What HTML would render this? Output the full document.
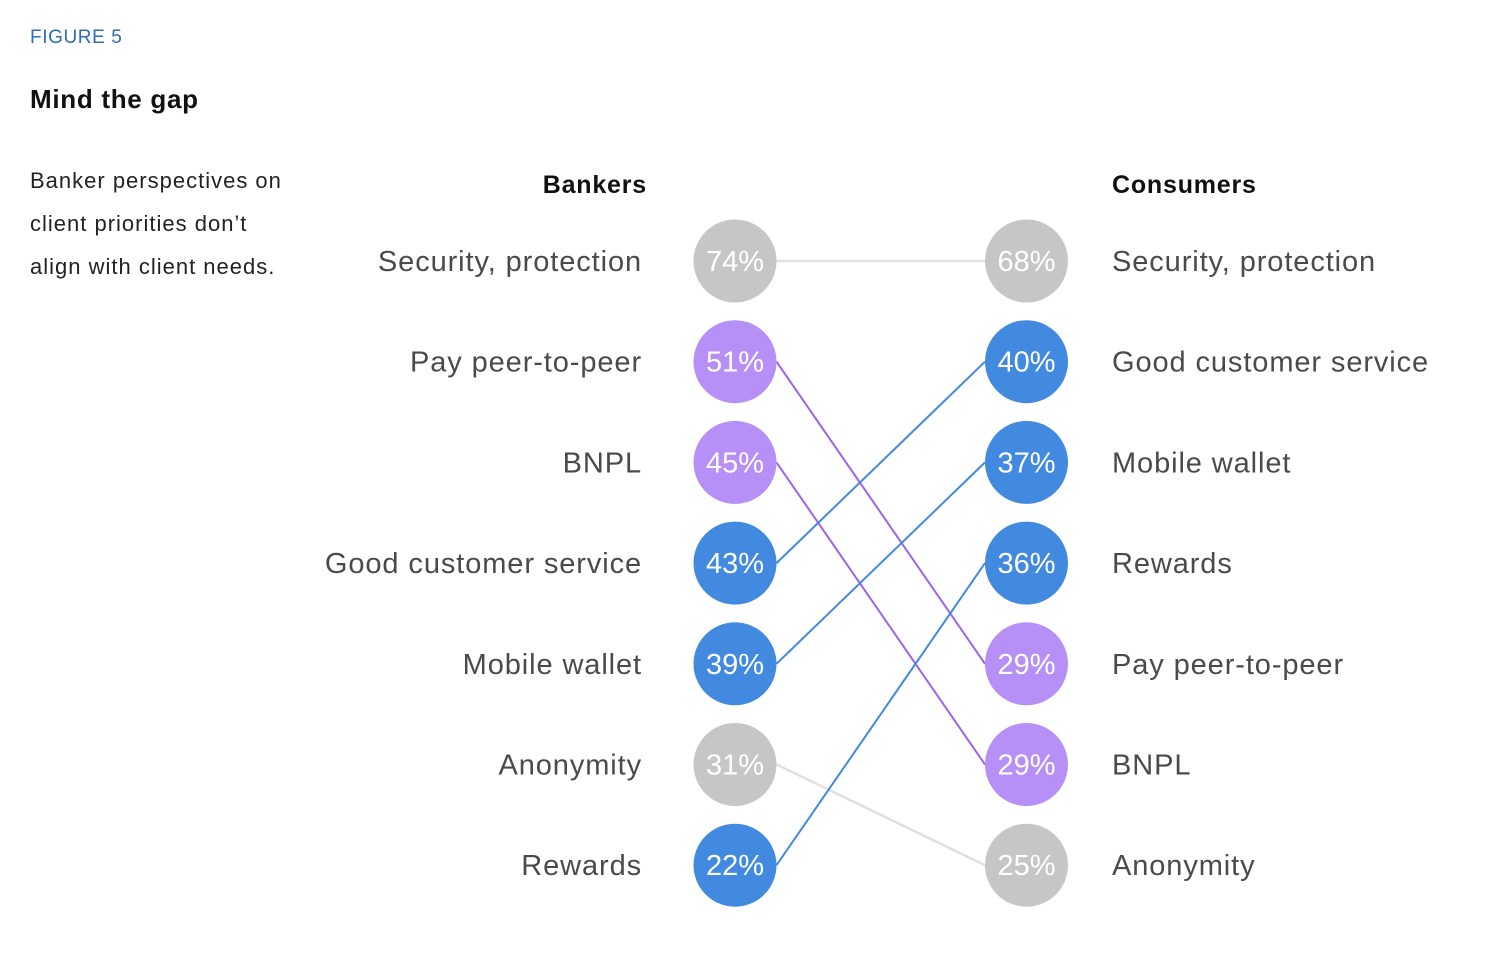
<!DOCTYPE html>
<html><head><meta charset="utf-8"><style>
body{margin:0;background:#fff;font-family:"Liberation Sans",sans-serif;}
svg text{font-family:"Liberation Sans",sans-serif;}
</style></head><body>
<svg id="chart" width="1486" height="960" xmlns="http://www.w3.org/2000/svg">
<text x="30" y="43" font-size="19" letter-spacing="0.6" fill="#2f6db5">FIGURE 5</text>
<text x="30" y="108" font-size="26" letter-spacing="0.7" font-weight="bold" fill="#111">Mind the gap</text>
<g font-size="22" letter-spacing="1" fill="#222">
<text x="30" y="188">Banker perspectives on</text>
<text x="30" y="231">client priorities don’t</text>
<text x="30" y="274">align with client needs.</text>
</g>
<text x="647" y="193" text-anchor="end" font-size="25" letter-spacing="0.8" font-weight="bold" fill="#111">Bankers</text>
<text x="1112" y="193" font-size="25" letter-spacing="0.8" font-weight="bold" fill="#111">Consumers</text>
<g id="lines"></g><g id="marks"></g>
</svg>
<script>
const bankerLabels=["Security, protection","Pay peer-to-peer","BNPL","Good customer service","Mobile wallet","Anonymity","Rewards"];
const bankerValues=[74,51,45,43,39,31,22];
const consumerLabels=["Security, protection","Good customer service","Mobile wallet","Rewards","Pay peer-to-peer","BNPL","Anonymity"];
const consumerValues=[68,40,37,36,29,29,25];
const groups={"Security, protection":"gray","Anonymity":"gray","Pay peer-to-peer":"purple","BNPL":"purple","Good customer service":"blue","Mobile wallet":"blue","Rewards":"blue"};
const fill={gray:"#c6c6c6",purple:"#b690f6",blue:"#418ae0"};
const stroke={gray:"#e0e0e0",purple:"#9f62ef",blue:"#418ae0"};
const NS="http://www.w3.org/2000/svg";
const xL=735,xR=1026.5,R=41.5;
const yRow=i=>261+i*100.7;
const lines=document.getElementById('lines'),marks=document.getElementById('marks');
function mk(t,a,p){const e=document.createElementNS(NS,t);for(const k in a)e.setAttribute(k,a[k]);p.appendChild(e);return e;}
bankerLabels.forEach((lab,i)=>{
  const j=consumerLabels.indexOf(lab);const g=groups[lab];
  const y1=yRow(i),y2=yRow(j);
  const ln=mk('line',{x1:xL+R,y1:y1,x2:xR-R,y2:y2,stroke:stroke[g],'stroke-width':g==='gray'?2.5:2},lines);
  
  
});
function side(labels,values,x,left){
  labels.forEach((lab,i)=>{
    const y=yRow(i),g=groups[lab];
    const c=mk('circle',{cx:x,cy:y,r:R,fill:fill[g]},marks);
    
    
    const v=mk('text',{x:x,y:y+10,'text-anchor':'middle','font-size':29,fill:'#fff'},marks);
    v.textContent=values[i]+'%';
    
    
    const t=mk('text',{x:left?642:1112,y:y+10,'text-anchor':left?'end':'start','font-size':29,'letter-spacing':0.9,fill:'#4a4a4a'},marks);
    t.textContent=lab;
    
    
  });
}
side(bankerLabels,bankerValues,xL,true);
side(consumerLabels,consumerValues,xR,false);
</script>
</body></html>
